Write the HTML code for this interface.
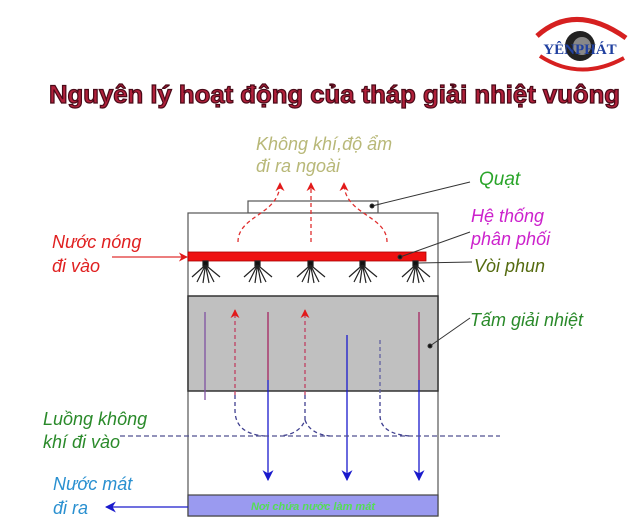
<!DOCTYPE html>
<html><head><meta charset="utf-8"><style>
html,body{margin:0;padding:0;background:#fff;}
svg{display:block;}
text{font-family:"Liberation Sans",sans-serif;}
.lb{font-size:18px;font-style:italic;}
</style></head><body>
<svg width="640" height="530" viewBox="0 0 640 530" xmlns="http://www.w3.org/2000/svg">
<defs>
<marker id="ar" viewBox="0 0 10 10" refX="9" refY="5" markerWidth="9" markerHeight="9" markerUnits="userSpaceOnUse" orient="auto"><path d="M0,0 L10,5 L0,10 L3,5z" fill="#e21a1a"/></marker>
<marker id="ab" viewBox="0 0 10 10" refX="9" refY="5" markerWidth="11" markerHeight="11" markerUnits="userSpaceOnUse" orient="auto"><path d="M0,0 L10,5 L0,10 L3,5z" fill="#1a1acc"/></marker>
</defs>
<!-- logo -->
<path d="M537,36 Q575,2 626,38" stroke="#d62020" stroke-width="5" fill="none"/>
<path d="M540,56 Q580,82 624,58" stroke="#d62020" stroke-width="4" fill="none"/>
<circle cx="580" cy="46" r="15" fill="#222"/>
<circle cx="582" cy="46" r="9" fill="#888"/>
<text x="580" y="54" style="font-family:'Liberation Serif',serif" font-size="15" font-weight="bold" fill="#2040a0" text-anchor="middle">YÊNPHÁT</text>
<!-- title -->
<text x="49" y="103" font-size="25" font-weight="bold" fill="#b0203a" stroke="#4a0a18" stroke-width="1.2" textLength="571" lengthAdjust="spacingAndGlyphs">Nguyên lý hoạt động của tháp giải nhiệt vuông</text>
<!-- top label -->
<text x="256" y="150" class="lb" fill="#b8b878">Không khí,độ ẩm</text>
<text x="256" y="172" class="lb" fill="#b8b878">đi ra ngoài</text>
<text x="479" y="185" font-size="19" font-style="italic" fill="#2aa52a">Quạt</text>
<!-- tower -->
<rect x="248" y="201" width="130" height="12" fill="#fff" stroke="#555" stroke-width="1.2"/>
<rect x="188" y="213" width="250" height="303" fill="#fff" stroke="#555" stroke-width="1.2"/>
<rect x="188" y="296" width="250" height="95" fill="#c0c0c0" stroke="#333" stroke-width="1.5"/>
<rect x="188" y="495" width="250" height="21" fill="#9a9af0" stroke="#444" stroke-width="1.2"/>
<text x="313" y="510" font-size="11" font-style="italic" font-weight="bold" fill="#55dd55" text-anchor="middle">Nơi chứa nước làm mát</text>
<!-- red pipe -->
<rect x="188" y="252" width="238" height="9" fill="#ee1111" stroke="#aa0000" stroke-width="0.8"/>
<!-- nozzles -->
<g stroke="#222" stroke-width="1.2">
<g id="nz"><rect x="203" y="261" width="5" height="5" fill="#111"/><path d="M205.5,265 L192,277 M205.5,265 L197,282 M205.5,265 L203,283 M205.5,265 L209,283 M205.5,265 L214,282 M205.5,265 L220,277"/></g>
<use href="#nz" x="52"/><use href="#nz" x="105"/><use href="#nz" x="157"/><use href="#nz" x="210"/>
</g>
<!-- air out -->
<g stroke="#e03030" stroke-width="1.3" fill="none" stroke-dasharray="4,3">
<path d="M238,242 C238,215 280,215 280,183" marker-end="url(#ar)"/>
<path d="M311,242 L311,183" marker-end="url(#ar)"/>
<path d="M387,242 C387,215 344,215 344,183" marker-end="url(#ar)"/>
</g>
<!-- fill lines -->
<g stroke-width="1.3" fill="none">
<path d="M205,312 V400" stroke="#8050a0"/>
<path d="M268,312 V480" stroke="#1a1acc" marker-end="url(#ab)"/>
<path d="M268,312 V380" stroke="#c04060"/>
<path d="M347,335 V480" stroke="#1a1acc" marker-end="url(#ab)"/>
<path d="M419,312 V480" stroke="#1a1acc" marker-end="url(#ab)"/>
<path d="M419,312 V380" stroke="#c04060"/>
<path d="M235,395 V310" stroke="#c04060" stroke-dasharray="4,3" marker-end="url(#ar)"/>
<path d="M305,395 V310" stroke="#c04060" stroke-dasharray="4,3" marker-end="url(#ar)"/>
<path d="M380,340 V395" stroke="#6060a0" stroke-dasharray="4,3"/>
<path d="M235,395 V410 Q235,434 265,436 M305,395 V420 Q300,434 280,436 M305,420 Q310,434 330,436 M380,395 V415 Q380,434 410,436" stroke="#404090" stroke-dasharray="4,3"/>
<path d="M120,436 H500" stroke="#505090" stroke-dasharray="5,3"/>
</g>
<!-- left labels -->
<text x="52" y="248" class="lb" fill="#e02020">Nước nóng</text>
<text x="52" y="272" class="lb" fill="#e02020">đi vào</text>
<path d="M112,257 H187" stroke="#e03030" stroke-width="1.3" marker-end="url(#ar)"/>
<text x="43" y="425" class="lb" fill="#2a8a2a">Luồng không</text>
<text x="43" y="448" class="lb" fill="#2a8a2a">khí đi vào</text>
<text x="53" y="490" class="lb" fill="#2a90d0">Nước mát</text>
<text x="53" y="514" class="lb" fill="#2a90d0">đi ra</text>
<path d="M188,507 H106" stroke="#1a1acc" stroke-width="1.3" marker-end="url(#ab)"/>
<!-- right labels -->
<text x="471" y="222" class="lb" fill="#cc22cc">Hệ thống</text>
<text x="471" y="245" class="lb" fill="#cc22cc">phân phối</text>
<text x="474" y="272" class="lb" fill="#556b10">Vòi phun</text>
<text x="470" y="326" class="lb" fill="#2a8a2a">Tấm giải nhiệt</text>
<g stroke="#333" stroke-width="1">
<path d="M372,206 L470,182"/><circle cx="372" cy="206" r="2" fill="#111"/>
<path d="M400,257 L470,232"/><circle cx="400" cy="257" r="2" fill="#111"/>
<path d="M418,263 L472,262"/>
<path d="M430,346 L470,318"/><circle cx="430" cy="346" r="2" fill="#111"/>
</g>
</svg>
</body></html>
